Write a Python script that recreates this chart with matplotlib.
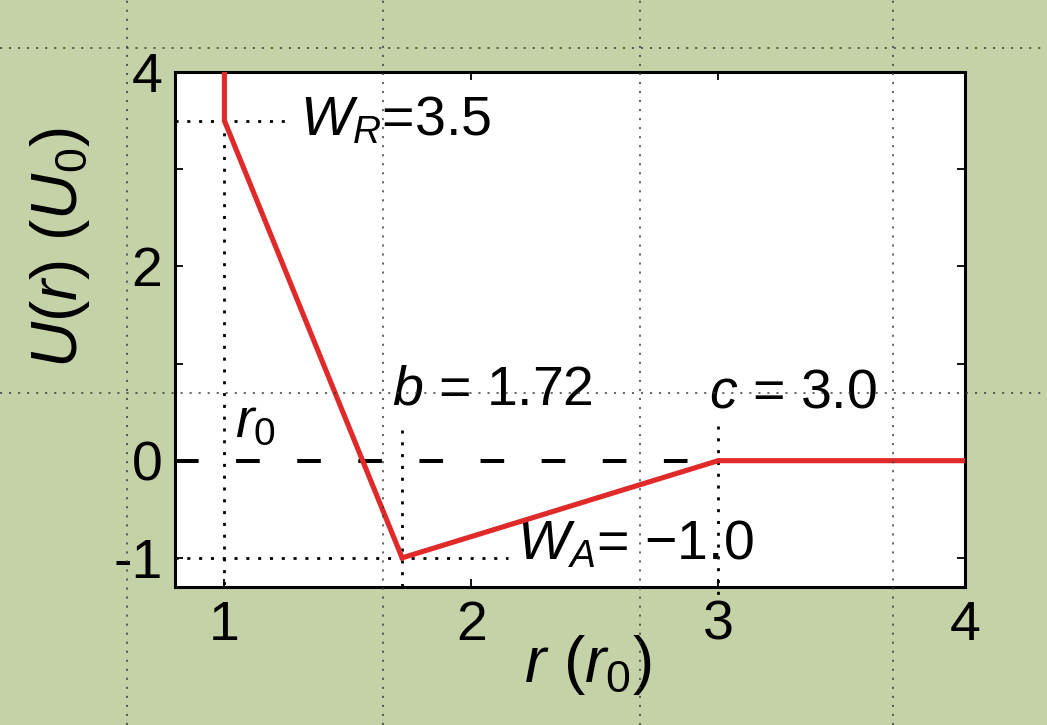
import matplotlib
matplotlib.use('Agg')
import matplotlib.pyplot as plt
import numpy as np

# Potential: hard core at r0, linear repulsive ramp, linear attractive well
r_pts = [1.0, 1.0, 1.72, 3.0, 4.0]
U_pts = [4.5, 3.5, -1.0, 0.0, 0.0]

W_R = 3.5
W_A = -1.0
b = 1.72
c = 3.0

xticks = [1, 2, 3, 4]
yticks = [-1, 0, 1, 2, 3, 4]
ytick_labels = ['-1', '0', '', '2', '', '4']

# page-grid guide lines (pixels)
grid_x = [127, 383, 640, 893]
grid_y = [48, 393]

plt.rcParams['font.family'] = ['Liberation Sans', 'DejaVu Sans']
plt.rcParams['mathtext.fontset'] = 'custom'
plt.rcParams['mathtext.rm'] = 'Liberation Sans'
plt.rcParams['mathtext.it'] = 'Liberation Sans:italic'
plt.rcParams['axes.unicode_minus'] = False
plt.rcParams['lines.scale_dashes'] = False

bg = '#c5d2a8'
red = '#e02a2a'

fig = plt.figure(figsize=(10.47, 7.25), dpi=100, facecolor=bg)
ax = fig.add_axes([175/1047, 1 - 587/725, 790/1047, 515/725])

ax.plot(r_pts, U_pts, color=red, lw=3.7, zorder=5, solid_joinstyle='miter')
ax.plot([0.8, c], [0, 0], color='k', lw=2.9, linestyle=(0, (17, 27)), zorder=4)

dot = (0, (2.2, 6.3))
dlw = 2.0
ax.plot([0.8, 1.25], [W_R, W_R], color='k', lw=dlw, linestyle=dot)
ax.plot([1.0, 1.0], [W_R, -1.3], color='k', lw=dlw, linestyle=dot)
ax.plot([0.8, 2.15], [W_A, W_A], color='k', lw=dlw, linestyle=dot)
ax.plot([b, b], [0.32, -1.3], color='k', lw=dlw, linestyle=dot)
ax.plot([c, c], [0.36, -1.42], color='k', lw=dlw, linestyle=dot, clip_on=False)

fs = 40
ax.text(1.305, 3.35, r'$W_R$=3.5', fontsize=fs, va='baseline')
ax.text(1.043, 0.24, r'$r_0$', fontsize=fs, va='baseline')
ax.text(1.677, 0.58, r'$b$ = 1.72', fontsize=fs, va='baseline')
ax.text(2.963, 0.55, r'$c$ = 3.0', fontsize=fs, va='baseline')
ax.text(2.187, -1.02, '$W_A$= \u22121.0', fontsize=fs, va='baseline')

ax.set_xlim(0.8, 4.0)
ax.set_ylim(-1.3, 4.0)
ax.set_xticks(xticks)
ax.set_yticks(yticks)
ax.set_yticklabels(ytick_labels)
ax.tick_params(direction='in', top=True, right=True, length=6, width=1.3,
               labelsize=fs, pad=9)
for s in ax.spines.values():
    s.set_linewidth(2.2)

ax.text(-0.145, 0.66, r'$U(r)$ $(U_0)$', fontsize=46, rotation=90,
        ha='center', va='center', transform=ax.transAxes)
ax.text(0.523, -0.152, r'$r$ $(r_0)$', fontsize=46,
        ha='center', va='center', transform=ax.transAxes)

# overlay guide grid over the whole page
ov = fig.add_axes([0, 0, 1, 1], zorder=10)
ov.patch.set_alpha(0)
ov.set_axis_off()
ov.set_xlim(0, 1047)
ov.set_ylim(725, 0)
for gx in grid_x:
    ov.axvline(gx, color='#3a3a3a', lw=1.1, linestyle=(0, (1.5, 5)))
for gy in grid_y:
    ov.axhline(gy, color='#3a3a3a', lw=1.1, linestyle=(0, (1.5, 5)))

fig.savefig('out.png', dpi=100, facecolor=bg)
